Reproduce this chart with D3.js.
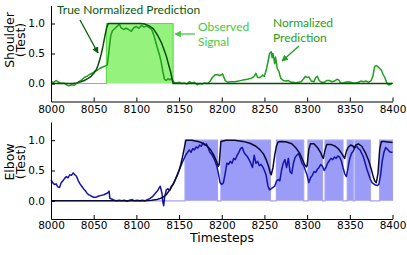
<!DOCTYPE html>
<html>
<head>
<meta charset="utf-8">
<script src="https://cdn.jsdelivr.net/npm/d3@7"></script>
<style>
  body { margin: 0; background: white; }
  svg { font-family: "DejaVu Sans", sans-serif; }
</style>
</head>
<body>
<svg id="chart" width="407" height="255"></svg>
<script>
// x ticks shared by both panels
var xTicks = [8000, 8050, 8100, 8150, 8200, 8250, 8300, 8350, 8400]
var yTicks = [0, 0.5, 1.0]

// observed signal: on intervals [start, end]
var shoulderOn = [[8065, 8143]]
var elbowOn = [[8157, 8195], [8199, 8257], [8264, 8296], [8301, 8318],
  [8321, 8342], [8347, 8354], [8356, 8374], [8385, 8400]]

// normalized prediction (shoulder), [timestep, value]
var shoulderPred = [
  [8000, 0.03], [8003, 0.02], [8006, 0.05], [8009, 0.02], [8012, 0.0], [8015, 0.01],
  [8018, -0.02], [8021, -0.04], [8024, -0.02], [8027, -0.03], [8030, 0.0], [8033, 0.03],
  [8036, 0.06], [8039, 0.1], [8042, 0.12], [8045, 0.15], [8048, 0.17], [8051, 0.2],
  [8054, 0.22], [8057, 0.25], [8060, 0.27], [8063, 0.29], [8066, 0.31], [8068, 0.55],
  [8070, 0.8], [8072, 0.88], [8075, 0.92], [8078, 0.96], [8080, 0.99], [8082, 0.93],
  [8085, 0.9], [8088, 0.92], [8091, 0.9], [8094, 0.87], [8097, 0.93], [8100, 0.95],
  [8103, 0.92], [8106, 0.97], [8109, 0.94], [8112, 0.96], [8115, 0.93], [8118, 0.9],
  [8121, 0.78], [8124, 0.62], [8127, 0.48], [8129, 0.36], [8131, 0.2], [8133, 0.07],
  [8135, 0.05], [8137, 0.08], [8139, 0.06], [8141, 0.08], [8144, 0.02], [8147, 0.01],
  [8150, 0.02], [8153, 0.0], [8156, 0.01], [8159, -0.01], [8162, 0.03], [8165, 0.01],
  [8168, 0.02], [8171, -0.02], [8174, 0.0], [8177, -0.01], [8180, 0.01], [8183, 0.0],
  [8186, 0.03], [8189, 0.1], [8192, 0.14], [8195, 0.15], [8198, 0.13], [8201, 0.16],
  [8204, 0.05], [8207, 0.02], [8210, 0.03], [8215, 0.03], [8220, 0.04], [8225, 0.06],
  [8230, 0.07], [8235, 0.09], [8238, 0.12], [8240, 0.17], [8242, 0.1], [8245, 0.1],
  [8248, 0.14], [8250, 0.12], [8252, 0.22], [8254, 0.35], [8256, 0.5], [8258, 0.53],
  [8259, 0.43], [8260, 0.5], [8262, 0.33], [8263, 0.44], [8265, 0.25], [8267, 0.2],
  [8269, 0.09], [8272, 0.05], [8275, 0.04], [8278, 0.05], [8281, 0.02], [8284, 0.02],
  [8287, 0.01], [8290, 0.02], [8293, 0.03], [8296, 0.08], [8298, 0.12], [8300, 0.1],
  [8302, 0.11], [8305, 0.04], [8308, 0.03], [8310, 0.1], [8312, 0.12], [8314, 0.05],
  [8317, 0.02], [8320, 0.02], [8323, 0.05], [8326, 0.05], [8329, 0.03], [8332, 0.04],
  [8335, 0.07], [8337, 0.06], [8339, 0.01], [8342, 0.01], [8345, 0.02], [8348, 0.03],
  [8351, 0.02], [8354, 0.01], [8357, 0.01], [8360, 0.02], [8363, 0.04], [8366, 0.03],
  [8369, 0.04], [8372, 0.02], [8375, 0.05], [8377, 0.12], [8379, 0.28], [8381, 0.3],
  [8383, 0.28], [8385, 0.25], [8387, 0.22], [8389, 0.15], [8391, 0.1], [8393, 0.02],
  [8395, -0.02], [8397, -0.02], [8400, 0.01]
]

// true normalized prediction (shoulder)
var shoulderTrue = [
  [8000, 0], [8025, 0], [8030, 0.01], [8035, 0.03], [8039, 0.05], [8043, 0.08],
  [8047, 0.12], [8050, 0.17], [8053, 0.23], [8055, 0.3], [8057, 0.39], [8059, 0.5],
  [8061, 0.63], [8063, 0.78], [8065, 0.92], [8067, 1.0], [8105, 1.0], [8110, 0.99],
  [8115, 0.96], [8120, 0.91], [8125, 0.8], [8129, 0.69], [8132, 0.58], [8135, 0.46],
  [8138, 0.3], [8140, 0.2], [8142, 0.07], [8143, 0], [8400, 0]
]

// normalized prediction (elbow)
var elbowPred = [
  [8000, 0.35], [8002, 0.3], [8004, 0.27], [8006, 0.28], [8008, 0.23], [8010, 0.22],
  [8012, 0.3], [8014, 0.33], [8016, 0.37], [8018, 0.4], [8020, 0.38], [8022, 0.43],
  [8024, 0.42], [8026, 0.46], [8028, 0.43], [8030, 0.4], [8032, 0.33], [8034, 0.28],
  [8036, 0.24], [8038, 0.2], [8040, 0.17], [8042, 0.13], [8044, 0.1], [8046, 0.09],
  [8048, 0.07], [8050, 0.06], [8053, 0.06], [8056, 0.08], [8059, 0.09], [8062, 0.1],
  [8065, 0.12], [8067, 0.14], [8068, 0.16], [8069, 0.04], [8071, 0.03], [8074, 0.01],
  [8077, 0.0], [8080, 0.01], [8083, 0.0], [8086, 0.01], [8089, -0.01], [8092, 0.01],
  [8095, 0.02], [8098, 0.0], [8101, 0.01], [8104, 0.0], [8107, 0.01], [8110, 0.0],
  [8113, 0.02], [8116, 0.04], [8119, 0.07], [8122, 0.12], [8125, 0.17], [8127, 0.22],
  [8128, 0.24], [8130, 0.12], [8131, -0.02], [8132, -0.08], [8133, 0.05], [8135, 0.18],
  [8137, 0.2], [8139, 0.17], [8141, 0.24], [8143, 0.27], [8146, 0.36], [8148, 0.42],
  [8150, 0.5], [8152, 0.57], [8154, 0.64], [8156, 0.7], [8158, 0.76], [8160, 0.8],
  [8162, 0.84], [8164, 0.8], [8166, 0.86], [8168, 0.84], [8170, 0.89], [8172, 0.87],
  [8174, 0.92], [8176, 0.9], [8178, 0.95], [8180, 0.92], [8182, 0.94], [8184, 0.88],
  [8186, 0.8], [8188, 0.77], [8190, 0.72], [8192, 0.66], [8194, 0.58], [8196, 0.46],
  [8198, 0.3], [8200, 0.27], [8202, 0.3], [8204, 0.45], [8206, 0.62], [8208, 0.6],
  [8210, 0.65], [8212, 0.62], [8214, 0.7], [8216, 0.68], [8218, 0.75], [8220, 0.8],
  [8222, 0.86], [8224, 0.88], [8226, 0.8], [8228, 0.76], [8230, 0.73], [8232, 0.68],
  [8234, 0.62], [8236, 0.55], [8238, 0.75], [8240, 0.62], [8242, 0.65], [8244, 0.58],
  [8246, 0.6], [8248, 0.56], [8250, 0.5], [8252, 0.42], [8254, 0.25], [8256, 0.18],
  [8258, 0.2], [8260, 0.22], [8262, 0.24], [8264, 0.32], [8266, 0.35], [8268, 0.33],
  [8270, 0.5], [8272, 0.62], [8274, 0.68], [8276, 0.55], [8278, 0.7], [8280, 0.48],
  [8282, 0.45], [8284, 0.62], [8286, 0.72], [8288, 0.75], [8290, 0.78], [8292, 0.7],
  [8294, 0.62], [8296, 0.58], [8298, 0.5], [8300, 0.42], [8302, 0.3], [8304, 0.38],
  [8306, 0.42], [8308, 0.48], [8310, 0.47], [8312, 0.52], [8314, 0.55], [8316, 0.6],
  [8318, 0.57], [8320, 0.5], [8322, 0.55], [8324, 0.62], [8326, 0.66], [8328, 0.7],
  [8330, 0.68], [8332, 0.72], [8334, 0.7], [8336, 0.74], [8338, 0.72], [8340, 0.66],
  [8342, 0.55], [8344, 0.45], [8346, 0.4], [8348, 0.55], [8350, 0.7], [8352, 0.78],
  [8354, 0.82], [8356, 0.88], [8358, 0.9], [8360, 0.86], [8362, 0.84], [8364, 0.78],
  [8366, 0.72], [8368, 0.62], [8370, 0.52], [8372, 0.44], [8374, 0.36], [8376, 0.3],
  [8378, 0.28], [8380, 0.26], [8382, 0.25], [8384, 0.27], [8386, 0.42], [8388, 0.66],
  [8390, 0.8], [8392, 0.88], [8394, 0.85], [8396, 0.82], [8398, 0.8], [8400, 0.8]
]

// true normalized prediction (elbow)
var elbowTrue = [
  [8000, 0], [8110, 0], [8118, 0.01], [8124, 0.02], [8130, 0.05], [8135, 0.1],
  [8140, 0.2], [8144, 0.3], [8147, 0.4], [8150, 0.5], [8152, 0.6], [8154, 0.72],
  [8156, 0.86], [8158, 1.0], [8165, 1.0], [8172, 0.98], [8178, 0.95], [8183, 0.9],
  [8187, 0.84], [8190, 0.77], [8193, 0.68], [8196, 0.57], [8197, 0.6], [8199, 0.98],
  [8205, 1.0], [8215, 1.0], [8225, 0.98], [8233, 0.95], [8240, 0.9], [8245, 0.84],
  [8249, 0.77], [8252, 0.68], [8255, 0.56], [8257, 0.45], [8258, 0.43], [8260, 0.55],
  [8262, 0.75], [8264, 0.9], [8266, 0.97], [8270, 0.98], [8276, 0.97], [8282, 0.94],
  [8287, 0.87], [8291, 0.79], [8294, 0.7], [8297, 0.6], [8299, 0.56], [8300, 0.58],
  [8302, 0.85], [8304, 0.94], [8308, 0.94], [8312, 0.88], [8316, 0.79], [8318, 0.72],
  [8319, 0.7], [8321, 0.84], [8323, 0.93], [8328, 0.93], [8333, 0.9], [8337, 0.85],
  [8341, 0.77], [8343, 0.72], [8344, 0.7], [8346, 0.82], [8348, 0.88], [8351, 0.92],
  [8354, 0.9], [8355, 0.87], [8357, 0.92], [8360, 0.94], [8364, 0.9], [8368, 0.8],
  [8372, 0.67], [8375, 0.53], [8377, 0.42], [8379, 0.33], [8381, 0.3], [8383, 0.45],
  [8385, 0.85], [8387, 0.98], [8390, 0.98], [8395, 0.97], [8400, 0.96]
]

var svg = d3.select("#chart")

var x = d3.scaleLinear().domain([8000, 8400]).range([51, 392.5])

// turn on-intervals into a step outline over the whole domain
function stepPoints(intervals) {
  var pts = [[8000, 0]]
  intervals.forEach(function(iv) {
    pts.push([iv[0], 0], [iv[0], 1], [iv[1], 1], [iv[1], 0])
  })
  pts.push([8400, 0])
  return pts
}

function drawPanel(opts) {
  var y = d3.scaleLinear().domain([-0.3, 1.3]).range([opts.bottom, opts.top])
  var g = svg.append("g")

  var area = d3.area()
    .x(function(d) { return x(d[0]) })
    .y0(y(0))
    .y1(function(d) { return y(d[1]) })
  var line = d3.line()
    .x(function(d) { return x(d[0]) })
    .y(function(d) { return y(d[1]) })

  var steps = stepPoints(opts.on)
  g.append("path")
    .attr("d", area(steps))
    .attr("fill", opts.fill)
    .attr("stroke", "none")
  g.append("path")
    .attr("d", line(steps))
    .attr("fill", "none")
    .attr("stroke", opts.edge)
    .attr("stroke-width", 1.2)

  g.append("path")
    .attr("d", line(opts.pred))
    .attr("fill", "none")
    .attr("stroke", opts.predColor)
    .attr("stroke-width", 1.5)
    .attr("stroke-linejoin", "round")

  g.append("path")
    .attr("d", line(opts.truth))
    .attr("fill", "none")
    .attr("stroke", opts.trueColor)
    .attr("stroke-width", 1.5)
    .attr("stroke-linejoin", "round")

  // left and bottom spines with inward ticks
  var xAxis = d3.axisBottom(x).tickValues(xTicks).tickSizeInner(-4).tickSizeOuter(0)
    .tickPadding(opts.xPad).tickFormat(d3.format("d"))
  var gx = g.append("g").attr("transform", "translate(0," + opts.bottom + ")").call(xAxis)
  var yAxis = d3.axisLeft(y).tickValues(yTicks).tickSizeInner(-4).tickSizeOuter(0)
    .tickPadding(6).tickFormat(d3.format(".1f"))
  var gy = g.append("g").attr("transform", "translate(51,0)").call(yAxis)
  ;[gx, gy].forEach(function(a) {
    a.selectAll("text").attr("font-size", 10.5).attr("fill", "#000")
      .attr("font-family", "DejaVu Sans")
    a.selectAll("line, path").attr("stroke", "#000")
  })

  g.append("text")
    .attr("transform", "translate(" + 14 + "," + opts.labelY + ") rotate(-90)")
    .attr("text-anchor", "middle")
    .attr("font-size", 12.5)
    .text(opts.label)
  g.append("text")
    .attr("transform", "translate(" + 25 + "," + opts.labelY + ") rotate(-90)")
    .attr("text-anchor", "middle")
    .attr("font-size", 12.5)
    .text("(Test)")
}

drawPanel({
  top: 5.5, bottom: 101.5, xPad: 4.5, on: shoulderOn, pred: shoulderPred, truth: shoulderTrue,
  fill: "#95f27c", edge: "#5fdc4a", predColor: "#1f9e1f", trueColor: "#0b4d0b",
  label: "Shoulder", labelY: 40
})
drawPanel({
  top: 122, bottom: 219, xPad: 2.5, on: elbowOn, pred: elbowPred, truth: elbowTrue,
  fill: "#9b9bf8", edge: "#a3a3f0", predColor: "#1414a8", trueColor: "#0a0a33",
  label: "Elbow", labelY: 162
})

svg.append("text")
  .attr("x", 222).attr("y", 242)
  .attr("text-anchor", "middle")
  .attr("font-size", 12.5)
  .text("Timesteps")

// annotations
var defs = svg.append("defs")
function marker(id, color) {
  defs.append("marker")
    .attr("id", id)
    .attr("viewBox", "0 0 10 10")
    .attr("refX", 9).attr("refY", 5)
    .attr("markerWidth", 5).attr("markerHeight", 5)
    .attr("orient", "auto")
    .append("path").attr("d", "M0,0L10,5L0,10z").attr("fill", color)
}
marker("headDark", "#0b5a0b")
marker("headLight", "#44c944")
marker("headMid", "#1f9e1f")

var notes = [
  {lines: ["True Normalized Prediction"], x: 57, y: 14, color: "#0b5a0b"},
  {lines: ["Observed", "Signal"], x: 198, y: 31, color: "#44c944"},
  {lines: ["Normalized", "Prediction"], x: 273, y: 27, color: "#1f9e1f"}
]
notes.forEach(function(n) {
  var t = svg.append("text")
    .attr("x", n.x).attr("y", n.y)
    .attr("font-family", "Lato, 'Open Sans', sans-serif")
    .attr("font-size", 12)
    .attr("fill", n.color)
  n.lines.forEach(function(s, i) {
    t.append("tspan").attr("x", n.x).attr("dy", i === 0 ? 0 : 15).text(s)
  })
})

var arrows = [
  {x1: 80, y1: 20, x2: 98, y2: 53, head: "headDark", color: "#0b5a0b"},
  {x1: 195, y1: 34, x2: 175, y2: 34, head: "headLight", color: "#44c944"},
  {x1: 299, y1: 46, x2: 282, y2: 61, head: "headMid", color: "#1f9e1f"}
]
arrows.forEach(function(a) {
  svg.append("line")
    .attr("x1", a.x1).attr("y1", a.y1).attr("x2", a.x2).attr("y2", a.y2)
    .attr("stroke", a.color).attr("stroke-width", 1.3)
    .attr("marker-end", "url(#" + a.head + ")")
})
</script>
</body>
</html>
